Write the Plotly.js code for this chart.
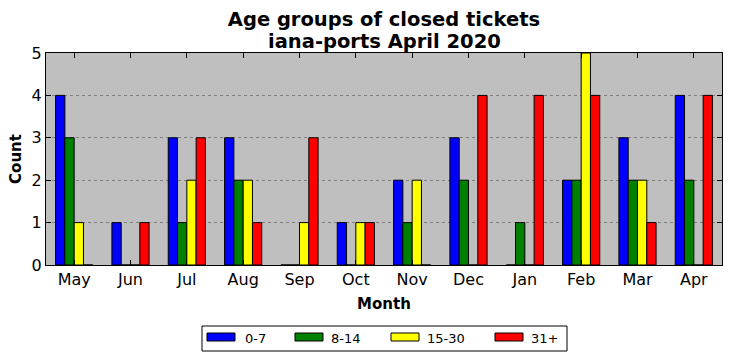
<!DOCTYPE html>
<html>
<head>
<meta charset="utf-8">
<script src="https://cdn.plot.ly/plotly-3.0.1.min.js"></script>
<style>html,body{margin:0;padding:0;background:#fff;}#chart{width:732px;height:361px;}</style>
</head>
<body>
<div id="chart"></div>
<script>
const months = ["May","Jun","Jul","Aug","Sep","Oct","Nov","Dec","Jan","Feb","Mar","Apr"];
const seriesNames = ["0-7","8-14","15-30","31+"];
const g0_7   = [4,1,3,3,0,1,2,3,0,2,3,4];
const g8_14  = [3,0,1,2,0,0,1,2,1,2,2,2];
const g15_30 = [1,0,2,2,1,1,2,0,0,5,2,0];
const g31p   = [0,1,3,1,3,1,0,4,4,4,1,4];
const colors = ["#0000ff","#008000","#ffff00","#ff0000"];
const values = [g0_7,g8_14,g15_30,g31p];
const titleLine1 = "Age groups of closed tickets";
const titleLine2 = "iana-ports April 2020";

const data = values.map((v,i)=>({
  type:'bar', x:months, y:v, name:seriesNames[i],
  marker:{color:colors[i], line:{color:'#000', width:1}}
}));

const font = "DejaVu Sans, sans-serif";

// plot area in pixels: left 46, right 722, top 53, bottom 265
const PL=46, PW=676, PB=265, PH=212;
const px = x => (x-PL)/PW;
const py = y => (PB-y)/PH;

// manual legend layout (pixel positions)
const legSwatchX = [207, 295, 391, 495];
const legTextX   = [243, 329, 425, 529];
const shapes = [{type:'rect', xref:'paper', yref:'paper', x0:px(202), x1:px(567), y0:py(351), y1:py(326), line:{color:'#000', width:1}, fillcolor:'#fff', layer:'above'}];
const annotations = [
  {xref:'paper', yref:'paper', x:0.5, y:py(41), xanchor:'center', yanchor:'middle', text:'<b>'+titleLine2+'</b>', showarrow:false, font:{size:19.5, family:font, color:'#000'}}
];
seriesNames.forEach((n,i)=>{
  shapes.push({type:'rect', xref:'paper', yref:'paper', x0:px(legSwatchX[i]), x1:px(legSwatchX[i]+28), y0:py(341), y1:py(333), line:{color:'#000', width:1}, fillcolor:colors[i], layer:'above'});
  annotations.push({xref:'paper', yref:'paper', x:px(legTextX[i]), y:py(338), xanchor:'left', yanchor:'middle', text:n, showarrow:false, font:{size:13, family:font, color:'#000'}});
});

const layout = {
  width:732, height:361,
  margin:{l:46, r:10, t:53, b:96},
  paper_bgcolor:'#ffffff', plot_bgcolor:'#bfbfbf',
  barmode:'group', bargap:0.34, bargroupgap:0,
  font:{family:font, color:'#000', size:15},
  title:{text:'<b>'+titleLine1+'</b>', x:0.5, xref:'paper', xanchor:'center', y:1-19/361, yref:'container', yanchor:'middle', font:{size:19.5, family:font}},
  xaxis:{type:'category', range:[-0.5,11.5], showline:true, linecolor:'#000', linewidth:1, mirror:'allticks', ticks:'inside', ticklen:5, tickcolor:'#000', showgrid:false, tickfont:{size:16}, title:{text:'<b>Month</b>', font:{size:15}, standoff:10}, automargin:false},
  yaxis:{range:[0,5], dtick:1, showline:true, linecolor:'#000', linewidth:1, mirror:'allticks', ticks:'inside', ticklen:5, tickcolor:'#000', showgrid:true, gridcolor:'#7f7f7f', griddash:'dot', gridwidth:1, zeroline:false, tickfont:{size:16}, title:{text:'<b>Count</b>', font:{size:15}, standoff:6}, automargin:false},
  showlegend:false,
  shapes:shapes,
  annotations:annotations
};
Plotly.newPlot('chart', data, layout, {displayModeBar:false, staticPlot:true});
</script>
</body>
</html>
